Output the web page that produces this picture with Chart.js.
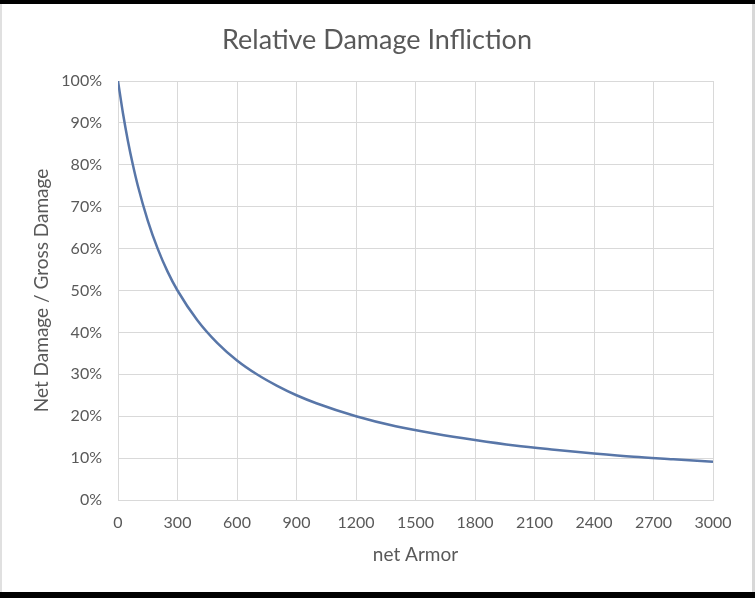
<!DOCTYPE html>
<html lang="en">

<head>
    <meta charset="UTF-8">
    <title>Relative Damage Infliction</title>
    <script src="https://cdn.jsdelivr.net/npm/chart.js@4.4.0/dist/chart.umd.min.js"></script>
    <style>
        html, body { margin: 0; padding: 0; background: #000; width: 755px; height: 598px; overflow: hidden; }
        #frame {
            position: absolute; left: 0; top: 4px; width: 750px; height: 588px;
            background: #fff; border-left: 2px solid #e0e0e0; border-right: 3px solid #d8d8d8;
        }
        #frame canvas { display: block; }
    </style>
</head>

<body>
    <div id="frame">
        <canvas id="myChart" width="750" height="588"></canvas>
    </div>

    <script>
        // values
        const armor = [0, 25, 50, 75, 100, 150, 200, 250, 300, 400, 500, 600, 700, 800, 900, 1000,
            1200, 1400, 1600, 1800, 2000, 2200, 2400, 2600, 2800, 3000];
        const ratio = [1.00, 0.923, 0.857, 0.80, 0.75, 0.667, 0.60, 0.545, 0.50, 0.429, 0.375, 0.333, 0.30,
            0.273, 0.25, 0.231, 0.20, 0.176, 0.158, 0.143, 0.130, 0.12, 0.111, 0.103, 0.097, 0.091];
        const xTicks = [0, 300, 600, 900, 1200, 1500, 1800, 2100, 2400, 2700, 3000];

        const textColor = '#595959';
        const gridColor = '#d9d9d9';
        const font = 'Lato';

        const ctx = document.getElementById('myChart').getContext('2d');
        new Chart(ctx, {
            type: 'scatter',
            data: {
                datasets: [{
                    label: 'Relative damage',
                    data: armor.map((a, i) => ({ x: a, y: ratio[i] })),
                    showLine: true,
                    borderColor: '#5876a8',
                    borderWidth: 2.5,
                    pointRadius: 0,
                    cubicInterpolationMode: 'monotone',
                    fill: false
                }]
            },
            options: {
                responsive: false,
                animation: false,
                plugins: {
                    legend: { display: false },
                    tooltip: { enabled: false },
                    title: {
                        display: true,
                        text: 'Relative Damage Infliction',
                        color: textColor,
                        font: { family: font, size: 27, weight: 'normal' },
                        padding: { top: 19.8, bottom: 24.8 }
                    }
                },
                scales: {
                    x: {
                        type: 'linear',
                        min: 0,
                        max: 3000,
                        afterBuildTicks: axis => { axis.ticks = xTicks.map(v => ({ value: v })); },
                        afterFit: axis => { axis.height = 92; },
                        grid: { color: gridColor, drawTicks: false },
                        border: { color: gridColor },
                        ticks: {
                            color: textColor, padding: 13, maxRotation: 0,
                            font: { family: font, size: 16 },
                            callback: v => String(v)
                        },
                        title: {
                            display: true, text: 'net Armor', color: textColor,
                            font: { family: font, size: 19 }, padding: { top: 25.6, bottom: 25.6 }
                        }
                    },
                    y: {
                        min: 0,
                        max: 1,
                        afterFit: axis => { axis.width = 116; },
                        grid: { color: gridColor, drawTicks: false },
                        border: { color: gridColor },
                        ticks: {
                            stepSize: 0.1, color: textColor, padding: 16,
                            font: { family: font, size: 16 },
                            callback: v => Math.round(v * 100) + '%'
                        },
                        title: {
                            display: true, text: 'Net Damage / Gross Damage', color: textColor,
                            font: { family: font, size: 19 }, padding: { top: 28.6, bottom: 28.6 }
                        }
                    },
                    // empty strip on the right so the title stays centred on the whole chart
                    yRight: {
                        position: 'right',
                        min: 0,
                        max: 1,
                        afterFit: axis => { axis.width = 39; },
                        grid: { display: false },
                        border: { display: false },
                        ticks: { display: false }
                    }
                }
            }
        });
    </script>
</body>

</html>
